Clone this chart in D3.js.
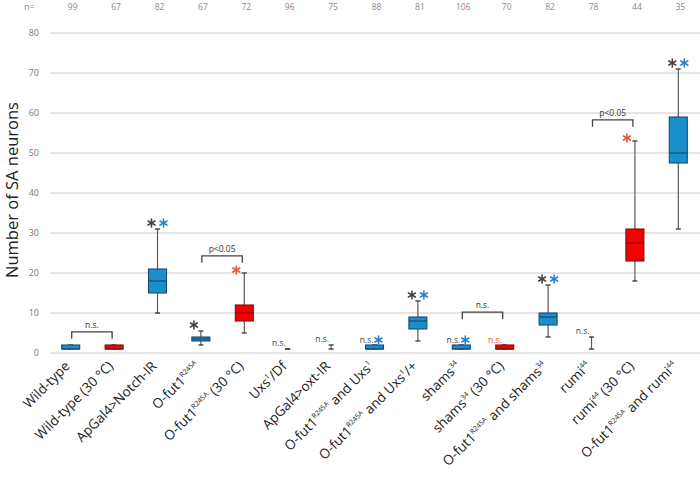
<!DOCTYPE html>
<html>
<head>
<meta charset="utf-8">
<script src="https://cdn.jsdelivr.net/npm/d3@7"></script>
<style>
  body { margin: 0; background: #fff; }
  svg { display: block; font-family: "Open Sans", sans-serif; }
</style>
</head>
<body>
<svg id="chart" width="700" height="478"></svg>
<script>
// genotypes, superscripts between ^ ... ^
const genotypes = [
  "Wild-type", "Wild-type (30 °C)", "ApGal4>Notch-IR", "O-fut1^R245A^",
  "O-fut1^R245A^ (30 °C)", "Uxs^1^/Df", "ApGal4>oxt-IR", "O-fut1^R245A^ and Uxs^1^",
  "O-fut1^R245A^ and  Uxs^1^/+", "shams^34^", "shams^34^ (30 °C)",
  "O-fut1^R245A^ and shams^34^", "rumi^44^", "rumi^44^ (30 °C)", "O-fut1^R245A^ and rumi^44^"
];
const temperature = [25, 30, 25, 25, 30, 25, 25, 25, 25, 25, 30, 25, 25, 30, 25];
const nCounts = [99, 67, 82, 67, 72, 96, 75, 88, 81, 106, 70, 82, 78, 44, 35];

// box plot stats (number of SA neurons)
const mins    = [1, 1, 10, 2,   5,  1, 1, 1, 3,  1, 1, 4,  1, 18,   31];
const q1s     = [1, 1, 15, 3,   8,  1, 1, 1, 6,  1, 1, 7,  1, 23,   47.5];
const medians = [1, 1, 18, 3.5, 10, 1, 1, 1, 8,  1, 1, 9,  1, 27.5, 50];
const q3s     = [2, 2, 21, 4,   12, 1, 1, 2, 9,  2, 2, 10, 1, 31,   59];
const maxs    = [2, 2, 31, 5.5, 20, 1, 2, 2, 13, 2, 2, 17, 4, 53,   71];

// significance marks: vs wild-type (black), vs O-fut1 (blue), vs 25 °C (red)
const vsWildType = ["", "", "*", "*", "", "n.s.", "n.s.", "n.s.", "*", "n.s.", "", "*", "n.s.", "", "*"];
const vsOfut1    = ["", "", "*", "", "", "", "", "*", "*", "*", "", "*", "", "", "*"];
const vsWarm     = ["", "", "", "", "*", "", "", "", "", "", "n.s.", "", "", "*", ""];

// pairwise brackets: [from, to, label, level]
const brackets = [
  [0, 1, "n.s.", 5.3],
  [3, 4, "p<0.05", 24.3],
  [9, 10, "n.s.", 10.2],
  [12, 13, "p<0.05", 58.3]
];
const yTicks = [0, 10, 20, 30, 40, 50, 60, 70, 80];

const svg = d3.select("#chart");
const x = d3.scaleBand().domain(d3.range(genotypes.length)).range([49, 700]).padding(0);
const y = d3.scaleLinear().domain([0, 80]).range([353, 33]);
const cx = i => x(i) + x.bandwidth() / 2;
const boxW = 18;

const fill = { 25: "#1a8fcc", 30: "#f50000" };
const edge = { 25: "#1d4a70", 30: "#7a1010" };
const colBlack = "#444", colBlue = "#2a7fd4", colRed = "#ef5533";

// grid + y labels
svg.append("g")
  .selectAll("line")
  .data(yTicks)
  .join("line")
  .attr("x1", 50).attr("x2", 700)
  .attr("y1", d => y(d)).attr("y2", d => y(d))
  .attr("stroke", "#dcdcdc")
  .attr("stroke-width", 1.5);

svg.append("g")
  .selectAll("text")
  .data(yTicks)
  .join("text")
  .attr("x", 39)
  .attr("y", d => y(d))
  .attr("dy", "0.35em")
  .attr("text-anchor", "end")
  .attr("font-size", 9)
  .attr("fill", "#7a7a7a")
  .text(d => d);

svg.append("text")
  .attr("transform", "translate(18,190) rotate(-90)")
  .attr("text-anchor", "middle")
  .attr("font-size", 16.5)
  .attr("fill", "#222")
  .text("Number of SA neurons");

// n= row
svg.append("text")
  .attr("x", 24).attr("y", 9.5)
  .attr("font-size", 9).attr("fill", "#888")
  .text("n=");
svg.append("g")
  .selectAll("text")
  .data(nCounts)
  .join("text")
  .attr("x", (d, i) => cx(i) + 2)
  .attr("y", 9.5)
  .attr("text-anchor", "middle")
  .attr("font-size", 8.5)
  .attr("fill", "#888")
  .text(d => d);

// boxes
const idx = d3.range(genotypes.length);
const boxes = svg.append("g").selectAll("g").data(idx).join("g");

boxes.append("line")
  .attr("x1", cx).attr("x2", cx)
  .attr("y1", i => y(mins[i])).attr("y2", i => y(maxs[i]))
  .attr("stroke", "#5a5a5a").attr("stroke-width", 1.2);

boxes.selectAll("line.cap")
  .data(i => [mins[i], maxs[i]].map(v => ({ i, v })))
  .join("line")
  .attr("class", "cap")
  .attr("x1", d => cx(d.i) - 2.5).attr("x2", d => cx(d.i) + 2.5)
  .attr("y1", d => y(d.v)).attr("y2", d => y(d.v))
  .attr("stroke", "#333").attr("stroke-width", 1.3);

const withBox = boxes.filter(i => q3s[i] > q1s[i]);
withBox.append("rect")
  .attr("x", i => cx(i) - boxW / 2)
  .attr("width", boxW)
  .attr("y", i => y(q3s[i]))
  .attr("height", i => y(q1s[i]) - y(q3s[i]))
  .attr("fill", i => fill[temperature[i]])
  .attr("stroke", i => edge[temperature[i]])
  .attr("stroke-width", 1.1);
withBox.append("line")
  .attr("x1", i => cx(i) - boxW / 2).attr("x2", i => cx(i) + boxW / 2)
  .attr("y1", i => y(medians[i])).attr("y2", i => y(medians[i]))
  .attr("stroke", i => edge[temperature[i]])
  .attr("stroke-width", 1.2);

// asterisk glyph
function star(g, px, py, color) {
  const r = 4;
  [90, 30, 150].forEach(a => {
    const t = a * Math.PI / 180;
    g.append("line")
      .attr("x1", px - r * Math.cos(t)).attr("x2", px + r * Math.cos(t))
      .attr("y1", py - r * Math.sin(t)).attr("y2", py + r * Math.sin(t))
      .attr("stroke", color).attr("stroke-width", 1.6).attr("stroke-linecap", "round");
  });
}
function ns(g, px, py, color) {
  g.append("text")
    .attr("x", px).attr("y", py)
    .attr("text-anchor", "end")
    .attr("font-size", 8.5)
    .attr("fill", color)
    .text("n.s.");
}

const marks = svg.append("g");
idx.forEach(i => {
  const c = cx(i), top = y(maxs[i]);
  const b = vsWildType[i], bl = vsOfut1[i], r = vsWarm[i];
  if (b === "*" && bl === "*") {
    star(marks, c - 6, top - 6, colBlack);
    star(marks, c + 6, top - 6, colBlue);
  } else if (b === "*") {
    star(marks, c - 7, top - 6, colBlack);
  } else if (b === "n.s." && bl === "*") {
    ns(marks, c - 1, top - 2.5, colBlack);
    star(marks, c + 4, top - 5, colBlue);
  } else if (b === "n.s.") {
    ns(marks, c - 2, top - 3.5, colBlack);
  }
  if (r === "*") star(marks, c - 8, top - 3, colRed);
  if (r === "n.s.") ns(marks, c - 3, top - 2.5, colRed);
});

// brackets
const br = svg.append("g");
brackets.forEach(([a, b, label, level]) => {
  const x1 = cx(a) + 1, x2 = cx(b) - 2, yl = y(level);
  br.append("path")
    .attr("d", `M${x1},${yl + 7}V${yl}H${x2}V${yl + 7}`)
    .attr("fill", "none")
    .attr("stroke", "#444")
    .attr("stroke-width", 1.3);
  br.append("text")
    .attr("x", (x1 + x2) / 2).attr("y", yl - 4)
    .attr("text-anchor", "middle")
    .attr("font-size", 8.5)
    .attr("fill", "#333")
    .text(label);
});

// x labels, rotated
const xl = svg.append("g").selectAll("text").data(idx).join("text")
  .attr("transform", i => `translate(${cx(i)},367) rotate(-45)`)
  .attr("text-anchor", "end")
  .attr("font-size", 13.5)
  .attr("fill", "#222");
xl.each(function (i) {
  const t = d3.select(this);
  let up = false;
  genotypes[i].split("^").forEach((part, k) => {
    const sup = k % 2 === 1;
    if (!part) return;
    const ts = t.append("tspan").text(part);
    if (sup) { ts.attr("font-size", 7).attr("dy", -5.5); up = true; }
    else if (up) { ts.attr("dy", 5.5); up = false; }
  });
});
</script>
</body>
</html>
